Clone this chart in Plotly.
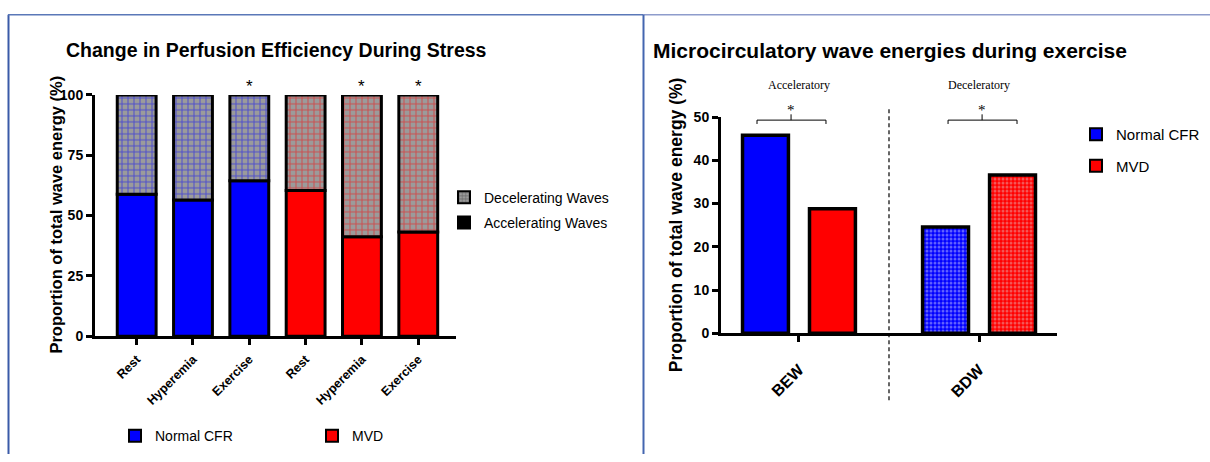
import plotly.graph_objects as go

# ---------------- Data ----------------
# Left panel: stacked percentages of wave energy
left_conditions = ["Rest", "Hyperemia", "Exercise", "Rest", "Hyperemia", "Exercise"]
left_groups = ["Normal CFR", "Normal CFR", "Normal CFR", "MVD", "MVD", "MVD"]
accelerating = [58.8, 56.4, 64.4, 60.4, 41.2, 43.2]
decelerating = [41.2, 43.6, 35.6, 39.6, 58.8, 56.8]
left_significant = [False, False, True, False, True, True]
left_yticks = [0, 25, 50, 75, 100]

# Right panel: wave energies during exercise
right_categories = ["BEW", "BDW"]
right_headers = ["Acceleratory", "Deceleratory"]
normal_cfr_energy = [45.8, 24.6]
mvd_energy = [28.8, 36.6]
right_yticks = [0, 10, 20, 30, 40, 50]

# ---------------- Styles ----------------
FONT = "Arial, Liberation Sans, sans-serif"
SERIF = "Times New Roman, Liberation Serif, serif"
BLUE = "#0000FF"
RED = "#FF0000"
GRAY = "#9b9b9b"
group_color = {"Normal CFR": BLUE, "MVD": RED}
W, H = 1210, 462


def px_x(p):
    return p / W


def px_y(p):
    return (H - p) / H


LX = [px_x(95), px_x(456)]
LY = [px_y(340), px_y(90)]
RX = [px_x(721), px_x(1057)]
RY = [px_y(337), px_y(113)]


def y2_paper(v):
    return RY[0] + v / right_yticks[-1] * (RY[1] - RY[0])


fig = go.Figure()

idx = list(range(len(left_conditions)))
colors = [group_color[g] for g in left_groups]
line = dict(color="black", width=3)

fig.add_trace(go.Bar(
    x=idx, y=accelerating, width=0.69, xaxis="x", yaxis="y",
    marker=dict(color=colors, line=line), showlegend=False,
))
fig.add_trace(go.Bar(
    x=idx, y=decelerating, base=accelerating, width=0.69, xaxis="x", yaxis="y",
    marker=dict(color=GRAY, line=line,
                pattern=dict(shape="+", fgcolor=colors, bgcolor=GRAY, size=6, solidity=0.3)),
    showlegend=False,
))

# legend entries
fig.add_trace(go.Bar(x=[None], y=[None], name="Decelerating Waves", legend="legend",
                     legendgroup="dec", xaxis="x", yaxis="y",
                     marker=dict(color=GRAY, line=dict(color="black", width=2),
                                 pattern=dict(shape="+", fgcolor="#333333", bgcolor=GRAY, size=4, solidity=0.4))))
fig.add_trace(go.Bar(x=[None], y=[None], name="Accelerating Waves", legend="legend",
                     legendgroup="acc", xaxis="x", yaxis="y",
                     marker=dict(color="black", line=dict(color="black", width=2))))
for g in ["Normal CFR", "MVD"]:
    fig.add_trace(go.Bar(x=[None], y=[None], name=g, legend="legend2", legendgroup="b" + g,
                         xaxis="x", yaxis="y",
                         marker=dict(color=group_color[g], line=dict(color="black", width=2))))
    fig.add_trace(go.Bar(x=[None], y=[None], name=g, legend="legend3", legendgroup="r" + g,
                         xaxis="x2", yaxis="y2",
                         marker=dict(color=group_color[g], line=dict(color="black", width=2))))

# Right panel bars
ridx = list(range(len(right_categories)))
half = 0.186
bw = 0.255
for name, vals, off in [("Normal CFR", normal_cfr_energy, -half - bw / 2),
                        ("MVD", mvd_energy, half - bw / 2)]:
    c = group_color[name]
    light = "#c4c4ff" if name == "Normal CFR" else "#e8b0b0"
    fig.add_trace(go.Bar(
        x=ridx, y=vals, offset=off, width=bw, xaxis="x2", yaxis="y2", showlegend=False,
        marker=dict(color=c, line=dict(color="black", width=3.5),
                    pattern=dict(shape=["", "."], fgcolor=light, bgcolor=c, size=4, solidity=0.45)),
    ))

axis_common = dict(showline=True, linecolor="black", linewidth=3, ticks="outside",
                   tickcolor="black", tickwidth=2.5, ticklen=6, showgrid=False, zeroline=False)

fig.update_layout(
    width=W, height=H, margin=dict(l=0, r=0, t=0, b=0),
    paper_bgcolor="white", plot_bgcolor="white", barmode="overlay",
    font=dict(family=FONT, color="black"),
    xaxis=dict(domain=LX, range=[-0.74, 5.67], anchor="y", tickvals=idx, ticktext=left_conditions,
               tickangle=-45, tickfont=dict(size=12.5, weight="bold"), ticklabelstandoff=2, **axis_common),
    yaxis=dict(domain=LY, range=[0, 100], anchor="x", tickvals=left_yticks,
               tickfont=dict(size=14, weight="bold"), **axis_common),
    xaxis2=dict(domain=RX, range=[-0.433, 1.433], anchor="y2", tickvals=ridx, ticktext=right_categories,
                tickangle=-45, tickfont=dict(size=16, weight="bold"), ticklabelstandoff=12, **axis_common),
    yaxis2=dict(domain=RY, range=[0, 50], anchor="x2", tickvals=right_yticks,
                tickfont=dict(size=14, weight="bold"), **axis_common),
    legend=dict(x=px_x(444), y=px_y(180), xanchor="left", yanchor="top", font=dict(size=14),
                traceorder="grouped", tracegroupgap=4, bgcolor="rgba(0,0,0,0)"),
    legend2=dict(x=px_x(115), y=px_y(427), xanchor="left", yanchor="top", orientation="h",
                 entrywidth=152, entrywidthmode="pixels", font=dict(size=14), bgcolor="rgba(0,0,0,0)"),
    legend3=dict(x=px_x(1076), y=px_y(114), xanchor="left", yanchor="top", font=dict(size=15),
                 traceorder="grouped", tracegroupgap=9, bgcolor="rgba(0,0,0,0)"),
)

annotations = [
    dict(text="Change in Perfusion Efficiency During Stress", x=px_x(64), y=px_y(44), xref="paper",
         yref="paper", xanchor="left", yanchor="middle", showarrow=False,
         font=dict(size=19.5, weight="bold")),
    dict(text="Microcirculatory wave energies during exercise", x=px_x(651), y=px_y(44), xref="paper",
         yref="paper", xanchor="left", yanchor="middle", showarrow=False,
         font=dict(size=21, weight="bold")),
    dict(text="Proportion of total wave energy (%)", x=px_x(45), y=px_y(214), xref="paper", yref="paper",
         textangle=-90, showarrow=False, font=dict(size=16.5, weight="bold")),
    dict(text="Proportion of total wave energy (%)", x=px_x(676), y=px_y(225), xref="paper", yref="paper",
         textangle=-90, showarrow=False, font=dict(size=17.5, weight="bold")),
]
for i, s in enumerate(left_significant):
    if s:
        annotations.append(dict(text="*", x=i, y=100, xref="x", yref="y", yanchor="bottom", yshift=-3,
                                showarrow=False, font=dict(size=17)))
for i, h in enumerate(right_headers):
    annotations.append(dict(text=h, x=i, y=px_y(80), xref="x2", yref="paper", yanchor="middle",
                            showarrow=False, font=dict(family=SERIF, size=12)))

# brackets (relative to group centre)
bracket_left = [-0.233, -0.172]
bracket_right = [0.150, 0.211]
bracket_mid = [-0.044, 0.017]
bracket_level = 49.3
shapes = []
yb = y2_paper(bracket_level)
for i in ridx:
    x0, x1, xm = i + bracket_left[i], i + bracket_right[i], i + bracket_mid[i]
    lk = dict(color="black", width=1)
    shapes.append(dict(type="line", xref="x2", yref="paper", x0=x0, x1=x1, y0=yb, y1=yb, line=lk))
    shapes.append(dict(type="line", xref="x2", yref="paper", x0=x0, x1=x0, y0=yb, y1=yb - 4 / H, line=lk))
    shapes.append(dict(type="line", xref="x2", yref="paper", x0=x1, x1=x1, y0=yb, y1=yb - 4 / H, line=lk))
    shapes.append(dict(type="line", xref="x2", yref="paper", x0=xm, x1=xm, y0=yb, y1=yb + 6 / H, line=lk))
    annotations.append(dict(text="*", x=xm, y=yb + 10 / H, xref="x2", yref="paper", yanchor="middle",
                            showarrow=False, font=dict(family=SERIF, size=15)))

# dashed separator between groups
shapes.append(dict(type="line", xref="x2", yref="paper", x0=0.5, x1=0.5, y0=px_y(105), y1=px_y(408),
                   line=dict(color="black", width=1.2, dash="4px,3px")))

# panel borders
shapes += [
    dict(type="line", xref="paper", yref="paper", x0=px_x(8.5), x1=px_x(8.5), y0=0, y1=px_y(7),
         line=dict(color="#3a5aa8", width=2)),
    dict(type="line", xref="paper", yref="paper", x0=px_x(8), x1=px_x(643), y0=px_y(7), y1=px_y(7),
         line=dict(color="#5a78b8", width=1.5)),
    dict(type="line", xref="paper", yref="paper", x0=px_x(643), x1=1, y0=px_y(7), y1=px_y(7),
         line=dict(color="#8e9ccc", width=1.5)),
    dict(type="line", xref="paper", yref="paper", x0=px_x(643.5), x1=px_x(643.5), y0=0, y1=px_y(7),
         line=dict(color="#4466b0", width=2)),
]

fig.update_layout(annotations=annotations, shapes=shapes)
post = ("document.documentElement.style.margin='0px';document.body.style.margin='0px';"
        "document.documentElement.style.overflow='hidden';document.body.style.overflow='hidden';"
        "var d=document.getElementById('{plot_id}');d.style.position='absolute';"
        "d.style.top='0px';d.style.left='0px';")
fig.write_html("out.html", config={"responsive": False, "displayModeBar": False}, post_script=post)
